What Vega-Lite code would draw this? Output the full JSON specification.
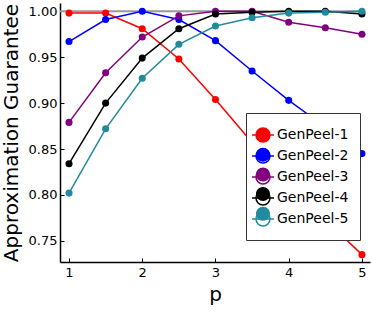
{
  "$schema": "https://vega.github.io/schema/vega-lite/v6.json",
  "width": 310,
  "height": 259,
  "autosize": "none",
  "padding": {"left": 60, "top": 3, "right": 3, "bottom": 50},
  "config": {
    "font": "DejaVu Sans",
    "view": {"stroke": null},
    "axis": {
      "grid": false,
      "domainColor": "black",
      "domainWidth": 1.5,
      "tickColor": "black",
      "tickWidth": 1,
      "tickSize": -4,
      "labelFont": "DejaVu Sans",
      "labelFontSize": 13,
      "labelColor": "black",
      "titleFont": "DejaVu Sans",
      "titleFontSize": 20,
      "titleFontWeight": "normal",
      "titleColor": "black"
    }
  },
  "datasets": {
    "series": [
      {"p": 1, "v": 0.998, "s": "GenPeel-1"}, {"p": 1.5, "v": 0.998, "s": "GenPeel-1"}, {"p": 2, "v": 0.981, "s": "GenPeel-1"}, {"p": 2.5, "v": 0.948, "s": "GenPeel-1"}, {"p": 3, "v": 0.904, "s": "GenPeel-1"}, {"p": 3.5, "v": 0.857, "s": "GenPeel-1"}, {"p": 4, "v": 0.815, "s": "GenPeel-1"}, {"p": 4.5, "v": 0.773, "s": "GenPeel-1"}, {"p": 5, "v": 0.735, "s": "GenPeel-1"},
      {"p": 1, "v": 0.967, "s": "GenPeel-2"}, {"p": 1.5, "v": 0.991, "s": "GenPeel-2"}, {"p": 2, "v": 1.0, "s": "GenPeel-2"}, {"p": 2.5, "v": 0.991, "s": "GenPeel-2"}, {"p": 3, "v": 0.968, "s": "GenPeel-2"}, {"p": 3.5, "v": 0.935, "s": "GenPeel-2"}, {"p": 4, "v": 0.903, "s": "GenPeel-2"}, {"p": 4.5, "v": 0.874, "s": "GenPeel-2"}, {"p": 5, "v": 0.845, "s": "GenPeel-2"},
      {"p": 1, "v": 0.879, "s": "GenPeel-3"}, {"p": 1.5, "v": 0.933, "s": "GenPeel-3"}, {"p": 2, "v": 0.972, "s": "GenPeel-3"}, {"p": 2.5, "v": 0.995, "s": "GenPeel-3"}, {"p": 3, "v": 1.0, "s": "GenPeel-3"}, {"p": 3.5, "v": 1.0, "s": "GenPeel-3"}, {"p": 4, "v": 0.988, "s": "GenPeel-3"}, {"p": 4.5, "v": 0.982, "s": "GenPeel-3"}, {"p": 5, "v": 0.975, "s": "GenPeel-3"},
      {"p": 1, "v": 0.834, "s": "GenPeel-4"}, {"p": 1.5, "v": 0.9, "s": "GenPeel-4"}, {"p": 2, "v": 0.949, "s": "GenPeel-4"}, {"p": 2.5, "v": 0.981, "s": "GenPeel-4"}, {"p": 3, "v": 0.997, "s": "GenPeel-4"}, {"p": 3.5, "v": 0.999, "s": "GenPeel-4"}, {"p": 4, "v": 1.0, "s": "GenPeel-4"}, {"p": 4.5, "v": 1.0, "s": "GenPeel-4"}, {"p": 5, "v": 0.997, "s": "GenPeel-4"},
      {"p": 1, "v": 0.802, "s": "GenPeel-5"}, {"p": 1.5, "v": 0.872, "s": "GenPeel-5"}, {"p": 2, "v": 0.927, "s": "GenPeel-5"}, {"p": 2.5, "v": 0.964, "s": "GenPeel-5"}, {"p": 3, "v": 0.984, "s": "GenPeel-5"}, {"p": 3.5, "v": 0.993, "s": "GenPeel-5"}, {"p": 4, "v": 0.998, "s": "GenPeel-5"}, {"p": 4.5, "v": 0.999, "s": "GenPeel-5"}, {"p": 5, "v": 1.0, "s": "GenPeel-5"}
    ],
    "ref": [{"x1": 0.877, "x2": 5, "y": 1.0}]
  },
  "layer": [
    {
      "data": {"name": "ref"},
      "mark": {"type": "rule", "color": "#999999", "strokeWidth": 2},
      "encoding": {
        "x": {"field": "x1", "type": "quantitative", "scale": {"domain": [0.877, 5.11], "nice": false, "zero": false}},
        "x2": {"field": "x2"},
        "y": {"field": "y", "type": "quantitative", "scale": {"domain": [0.727, 1.009], "nice": false, "zero": false}}
      }
    },
    {
      "data": {"name": "series"},
      "mark": {"type": "line", "strokeWidth": 1.5},
      "encoding": {
        "x": {"field": "p", "type": "quantitative", "title": "p", "axis": {"values": [1, 2, 3, 4, 5], "format": "d", "labelPadding": 8, "titlePadding": 5}},
        "y": {"field": "v", "type": "quantitative", "title": "Approximation Guarantee", "axis": {"values": [0.75, 0.8, 0.85, 0.9, 0.95, 1.0], "format": ".2f", "labelPadding": 7, "titlePadding": 7}},
        "stroke": {"field": "s", "type": "nominal",
          "scale": {"range": ["#ff0000", "#0000ff", "#800080", "#000000", "#218a9e"]},
          "legend": {
            "title": null,
            "orient": "none",
            "legendX": 186,
            "legendY": 110,
            "padding": 11,
            "strokeColor": "#333333",
            "fillColor": "white",
            "symbolType": "M-1.6,0H0.6M-1.2,0A0.7,0.7 0 1,0 0.2,0A0.7,0.7 0 1,0 -1.2,0Z",
            "symbolSize": 400,
            "symbolStrokeWidth": 1.5,
            "symbolOpacity": 1,
            "labelFontSize": 14,
            "labelFont": "DejaVu Sans",
            "labelColor": "black",
            "labelOffset": -2,
            "rowPadding": -1.1,
            "zindex": 1
          }
        }
      }
    },
    {
      "data": {"name": "series"},
      "mark": {"type": "point", "filled": true, "opacity": 1, "size": 50, "shape": "circle"},
      "encoding": {
        "x": {"field": "p", "type": "quantitative"},
        "y": {"field": "v", "type": "quantitative"},
        "fill": {"field": "s", "type": "nominal",
          "scale": {"domain": ["GenPeel-1", "GenPeel-2", "GenPeel-3", "GenPeel-4", "GenPeel-5"], "range": ["#ff0000", "#0000ff", "#800080", "#000000", "#218a9e"]},
          "legend": {
            "title": null,
            "orient": "none",
            "legendX": 186,
            "legendY": 110,
            "padding": 11,
            "strokeColor": "transparent",
            "symbolType": "M-1.6,0H0.6M-1.2,0A0.7,0.7 0 1,0 0.2,0A0.7,0.7 0 1,0 -1.2,0Z",
            "symbolSize": 400,
            "symbolStrokeWidth": 1.5,
            "symbolOpacity": 1,
            "labelFontSize": 14,
            "labelFont": "DejaVu Sans",
            "labelColor": "black",
            "labelOpacity": 0,
            "labelOffset": -2,
            "rowPadding": 1.7,
            "zindex": 2
          }
        }
      }
    }
  ]
}
